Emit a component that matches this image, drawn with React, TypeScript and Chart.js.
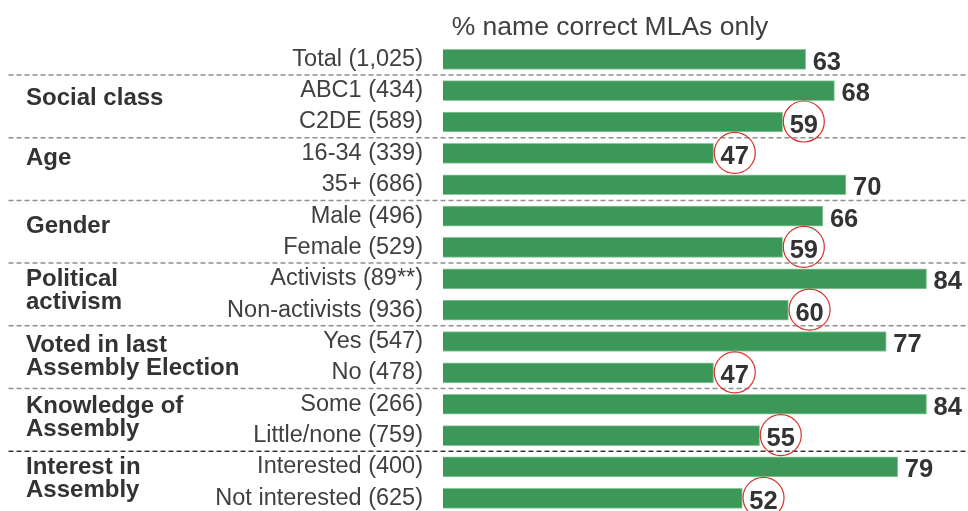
import React, { useEffect, useRef } from "react";
import { Chart, registerables } from "chart.js";

Chart.register(...registerables);

// ---- data ----
const chartTitle = "% name correct MLAs only";
const categories = [
  "Total (1,025)",
  "ABC1 (434)",
  "C2DE (589)",
  "16-34 (339)",
  "35+ (686)",
  "Male (496)",
  "Female (529)",
  "Activists (89**)",
  "Non-activists (936)",
  "Yes (547)",
  "No (478)",
  "Some (266)",
  "Little/none (759)",
  "Interested (400)",
  "Not interested (625)",
];
const values = [63, 68, 59, 47, 70, 66, 59, 84, 60, 77, 47, 84, 55, 79, 52];
const circled = [false, false, true, true, false, false, true, false, true, false, true, false, true, false, true];
const groupNames = [
  ["Social class"],
  ["Age"],
  ["Gender"],
  ["Political", "activism"],
  ["Voted in last", "Assembly Election"],
  ["Knowledge of", "Assembly"],
  ["Interest in", "Assembly"],
];
const groupFirstRow = [1, 3, 5, 7, 9, 11, 13];

// ---- layout / style ----
const FONT = '"Liberation Sans", Arial, Helvetica, sans-serif';
const groupBaselineOffset = [14, 12, 17, 7, 10, 9, 7];
const GROUP_LINE = 23;

const overlay = {
  id: "overlay",
  afterDatasetsDraw(chart: any) {
    const { ctx, scales } = chart;
    const xs = scales.x;
    const ys = scales.y;
    ctx.save();

    // title
    ctx.font = `26.5px ${FONT}`;
    ctx.fillStyle = "#404040";
    ctx.textAlign = "center";
    ctx.textBaseline = "alphabetic";
    ctx.fillText(chartTitle, 610, 35);

    // separators
    groupFirstRow.forEach((r, g) => {
      const yy = (ys.getPixelForValue(r - 1) + ys.getPixelForValue(r)) / 2;
      ctx.beginPath();
      ctx.setLineDash([5, 3]);
      ctx.lineWidth = 1.5;
      ctx.strokeStyle = g === groupFirstRow.length - 1 ? "#3a3a3a" : "#8f8f8f";
      ctx.moveTo(8.5, yy);
      ctx.lineTo(chart.width, yy);
      ctx.stroke();
    });
    ctx.setLineDash([]);

    // group labels
    ctx.font = `bold 24px ${FONT}`;
    ctx.fillStyle = "#333333";
    ctx.textAlign = "left";
    ctx.textBaseline = "alphabetic";
    groupNames.forEach((lines, g) => {
      const base = ys.getPixelForValue(groupFirstRow[g]) + groupBaselineOffset[g];
      lines.forEach((line, li) => {
        ctx.fillText(line, 26, base + li * GROUP_LINE);
      });
    });

    // value labels and circles
    ctx.font = `bold 25.5px ${FONT}`;
    values.forEach((v, i) => {
      const xEnd = xs.getPixelForValue(v);
      const yc = ys.getPixelForValue(i);
      const tx = xEnd + 7;
      const label = String(v);
      ctx.fillStyle = "#333333";
      ctx.textAlign = "left";
      ctx.fillText(label, tx, yc + 10.5);
      if (circled[i]) {
        const w = ctx.measureText(label).width;
        ctx.beginPath();
        ctx.lineWidth = 1.2;
        ctx.strokeStyle = "#d9302c";
        ctx.arc(tx + w / 2, yc - 0.5, 20.5, 0, Math.PI * 2);
        ctx.stroke();
      }
    });

    ctx.restore();
  },
};

export default function App() {
  const ref = useRef<HTMLCanvasElement | null>(null);

  useEffect(() => {
    if (!ref.current) return;
    const chart = new Chart(ref.current, {
      type: "bar",
      data: {
        labels: categories,
        datasets: [
          {
            data: values,
            backgroundColor: "#3c9858",
            borderColor: "#8cc89c",
            borderWidth: 1,
            barThickness: 20,
            clip: false as any,
          },
        ],
      },
      options: {
        indexAxis: "y",
        animation: false,
        responsive: false,
        maintainAspectRatio: false,
        layout: { padding: { top: 59.3, bottom: 12.7, left: 0, right: 0 } },
        plugins: {
          legend: { display: false },
          title: { display: false },
          tooltip: { enabled: false },
        },
        scales: {
          x: {
            display: false,
            min: 0,
            max: 91.2,
          },
          y: {
            type: "category",
            offset: false,
            grid: { display: false, drawTicks: false },
            border: { display: false },
            ticks: {
              autoSkip: false,
              padding: 20,
              color: "#404040",
              font: { family: FONT, size: 23.5 },
            },
            afterFit: (s: any) => {
              s.width = 443;
              s.paddingTop = 0;
              s.paddingBottom = 0;
            },
          },
        },
      },
      plugins: [overlay],
    });
    return () => chart.destroy();
  }, []);

  return (
    <div style={{ position: "absolute", left: 0, top: 0, width: 968, height: 511, background: "#fff" }}>
      <canvas ref={ref} width={968} height={511} style={{ display: "block" }} />
    </div>
  );
}
